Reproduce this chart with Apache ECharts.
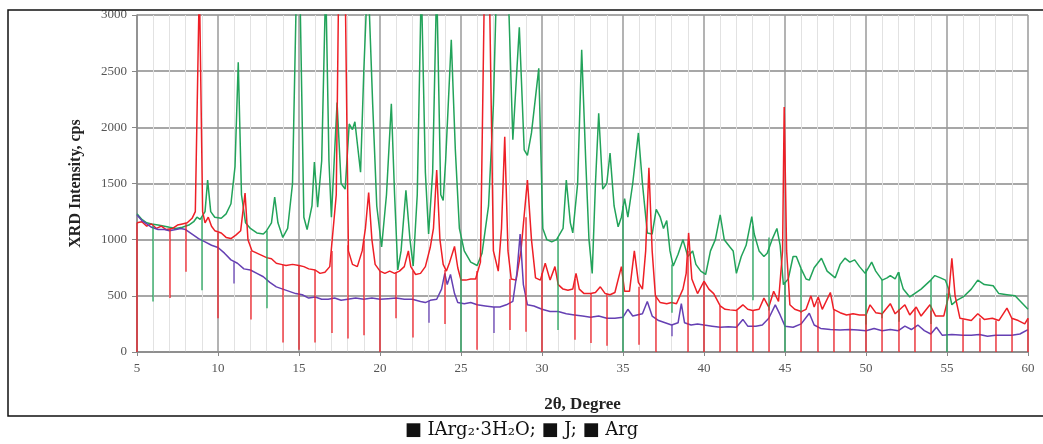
<!DOCTYPE html>
<html>
<head>
<meta charset="utf-8">
<script src="https://cdn.jsdelivr.net/npm/echarts@6/dist/echarts.min.js"></script>
<style>
  html, body { margin: 0; padding: 0; background: #fff; }
  #chart { width: 1043px; height: 444px; }
</style>
</head>
<body>
<div id="chart"></div>
<script>
// series names (caption order)
const seriesNames = ['IArg2·3H2O', 'J', 'Arg']

// green trace [2theta, cps]
const greenPts = [
  [5.0, 1230], [5.3, 1180], [5.6, 1150], [5.9, 1140], [6.3, 1130], [6.7, 1120], [7.0, 1110], [7.4, 1100],
  [7.8, 1110], [8.2, 1130], [8.5, 1160], [8.7, 1200], [8.9, 1180], [9.2, 1250], [9.36, 1530], [9.55, 1250],
  [9.8, 1200], [10.2, 1190], [10.5, 1230], [10.8, 1320], [11.05, 1650], [11.25, 2580], [11.45, 1400],
  [11.7, 1150], [12.0, 1100], [12.4, 1060], [12.8, 1050], [13.0, 1080], [13.3, 1150], [13.5, 1380],
  [13.7, 1150], [14.0, 1020], [14.3, 1100], [14.6, 1500], [14.85, 3300], [15.05, 3300], [15.3, 1200],
  [15.5, 1090], [15.8, 1300], [15.95, 1690], [16.15, 1290], [16.4, 1700], [16.65, 3300], [16.85, 1700],
  [17.0, 1200], [17.35, 2220], [17.6, 1500], [17.85, 1450], [18.1, 2030], [18.3, 1980], [18.45, 2050],
  [18.8, 1600], [19.0, 2500], [19.25, 3400], [19.55, 2200], [19.8, 1300], [20.1, 935], [20.4, 1400],
  [20.7, 2210], [20.9, 1400], [21.1, 730], [21.3, 900], [21.6, 1440], [21.85, 1000], [22.05, 765],
  [22.3, 1400], [22.55, 3300], [22.8, 1600], [23.0, 1050], [23.25, 1600], [23.5, 3300], [23.75, 1400],
  [23.9, 1350], [24.05, 1700], [24.4, 2780], [24.65, 1800], [24.9, 1100], [25.2, 900], [25.6, 800],
  [26.0, 770], [26.3, 880], [26.7, 1300], [27.0, 2200], [27.2, 3300], [27.55, 3400], [27.9, 3300],
  [28.2, 1890], [28.6, 2890], [28.9, 1800], [29.1, 1750], [29.35, 1950], [29.8, 2525], [30.05, 1100],
  [30.3, 1000], [30.6, 980], [30.9, 1000], [31.3, 1100], [31.5, 1530], [31.75, 1150], [31.9, 1060],
  [32.2, 1500], [32.45, 2690], [32.7, 1700], [32.9, 1000], [33.1, 700], [33.3, 1500], [33.5, 2125],
  [33.75, 1450], [34.0, 1500], [34.2, 1770], [34.45, 1300], [34.7, 1115], [34.9, 1200], [35.1, 1365],
  [35.3, 1200], [35.6, 1500], [35.95, 1950], [36.2, 1500], [36.5, 1060], [36.8, 1050], [37.05, 1270],
  [37.3, 1200], [37.5, 1100], [37.7, 1170], [37.9, 900], [38.1, 765], [38.4, 870], [38.7, 1000],
  [39.0, 850], [39.3, 900], [39.5, 780], [39.8, 720], [40.1, 690], [40.4, 900], [40.7, 1000],
  [41.0, 1220], [41.25, 1000], [41.6, 935], [41.8, 900], [42.0, 700], [42.3, 850], [42.6, 950],
  [42.95, 1205], [43.1, 1050], [43.4, 900], [43.7, 850], [43.9, 880], [44.2, 1000], [44.5, 1100],
  [44.7, 950], [44.9, 600], [45.2, 650], [45.5, 850], [45.7, 850], [46.0, 740], [46.3, 650], [46.5, 640],
  [46.8, 750], [47.25, 835], [47.6, 720], [48.1, 660], [48.4, 780], [48.7, 835], [49.0, 800], [49.3, 820],
  [49.6, 760], [49.95, 700], [50.35, 800], [50.6, 720], [51.0, 640], [51.3, 660], [51.5, 680], [51.8, 650],
  [52.0, 710], [52.3, 560], [52.7, 490], [53.0, 520], [53.4, 560], [53.7, 600], [54.0, 640], [54.25, 680],
  [54.6, 660], [54.9, 640], [55.1, 560], [55.3, 420], [55.6, 460], [56.0, 490], [56.5, 560], [56.9, 640],
  [57.3, 600], [57.85, 590], [58.2, 520], [58.7, 510], [59.2, 500], [59.6, 440], [60.0, 380]
]

// red trace
const redPts = [
  [5.0, 1150], [5.3, 1160], [5.6, 1120], [5.9, 1140], [6.2, 1100], [6.5, 1120], [6.8, 1090], [7.2, 1100],
  [7.5, 1130], [7.8, 1140], [8.1, 1150], [8.4, 1190], [8.6, 1250], [8.85, 3300], [9.05, 1250], [9.2, 1150],
  [9.4, 1200], [9.6, 1120], [9.8, 1080], [10.2, 1060], [10.5, 1020], [10.8, 1010], [11.1, 1040],
  [11.4, 1080], [11.67, 1415], [11.85, 1000], [12.1, 900], [12.4, 880], [12.7, 860], [13.0, 840],
  [13.3, 830], [13.6, 790], [13.9, 780], [14.2, 770], [14.6, 780], [15.0, 770], [15.3, 760], [15.6, 740],
  [16.0, 730], [16.3, 700], [16.6, 710], [16.9, 760], [17.3, 1400], [17.45, 3300], [17.85, 3300],
  [18.05, 900], [18.3, 780], [18.6, 760], [18.9, 900], [19.1, 1100], [19.3, 1420], [19.5, 1000],
  [19.7, 780], [20.0, 720], [20.3, 700], [20.6, 720], [20.9, 700], [21.2, 720], [21.5, 760], [21.75, 900],
  [21.9, 760], [22.2, 690], [22.5, 700], [22.8, 760], [23.1, 930], [23.3, 1100], [23.5, 1620], [23.7, 1000],
  [23.9, 780], [24.1, 720], [24.3, 800], [24.6, 940], [24.8, 750], [25.0, 640], [25.3, 640], [25.6, 650],
  [25.9, 650], [26.2, 800], [26.45, 3300], [26.75, 3300], [27.0, 900], [27.3, 720], [27.5, 1100],
  [27.7, 1915], [27.9, 900], [28.1, 650], [28.4, 640], [28.7, 900], [29.1, 1530], [29.35, 1000],
  [29.6, 660], [29.9, 640], [30.2, 790], [30.5, 640], [30.8, 760], [31.0, 600], [31.3, 560], [31.6, 550],
  [31.9, 560], [32.1, 700], [32.3, 560], [32.6, 520], [33.0, 520], [33.3, 530], [33.6, 580], [33.9, 520],
  [34.2, 510], [34.5, 530], [34.9, 760], [35.1, 540], [35.4, 540], [35.7, 900], [35.95, 620], [36.2, 560],
  [36.4, 900], [36.6, 1640], [36.8, 900], [37.0, 500], [37.3, 440], [37.7, 430], [38.0, 440], [38.3, 430],
  [38.7, 560], [38.9, 700], [39.05, 1060], [39.25, 650], [39.6, 520], [40.0, 630], [40.3, 560],
  [40.6, 520], [41.0, 410], [41.3, 380], [41.6, 375], [42.0, 370], [42.4, 420], [42.7, 380], [43.0, 370],
  [43.4, 380], [43.7, 480], [44.0, 400], [44.3, 540], [44.6, 450], [44.85, 900], [44.95, 2180],
  [45.1, 900], [45.3, 420], [45.6, 380], [46.0, 360], [46.3, 380], [46.6, 500], [46.8, 400], [47.05, 490],
  [47.3, 380], [47.8, 530], [48.0, 380], [48.4, 350], [48.8, 330], [49.2, 340], [49.6, 330], [50.0, 330],
  [50.25, 420], [50.6, 350], [51.0, 340], [51.5, 430], [51.8, 340], [52.4, 420], [52.7, 330], [53.1, 400],
  [53.4, 320], [53.95, 420], [54.3, 320], [54.8, 320], [55.1, 500], [55.3, 835], [55.5, 500], [55.8, 300],
  [56.2, 290], [56.5, 280], [56.9, 340], [57.3, 290], [57.8, 300], [58.2, 280], [58.7, 390], [59.0, 300],
  [59.4, 280], [59.8, 250], [60.0, 300]
]

// purple trace
const purplePts = [
  [5.0, 1220], [5.3, 1170], [5.6, 1140], [5.9, 1110], [6.3, 1090], [6.7, 1090], [7.0, 1080], [7.4, 1090],
  [7.7, 1100], [8.0, 1090], [8.4, 1050], [8.8, 1010], [9.2, 980], [9.6, 950], [10.0, 930], [10.4, 880],
  [10.8, 820], [11.2, 790], [11.6, 740], [12.0, 730], [12.4, 700], [12.8, 670], [13.2, 620], [13.6, 580],
  [14.0, 560], [14.4, 540], [14.8, 520], [15.2, 510], [15.6, 480], [16.0, 490], [16.4, 470], [16.8, 470],
  [17.2, 480], [17.6, 460], [18.0, 470], [18.5, 480], [19.0, 470], [19.5, 480], [20.0, 470], [20.5, 475],
  [21.0, 480], [21.5, 470], [22.0, 470], [22.5, 450], [22.8, 440], [23.1, 460], [23.5, 470], [23.8, 560],
  [24.0, 700], [24.15, 600], [24.35, 690], [24.6, 520], [24.8, 440], [25.2, 430], [25.6, 440], [26.0, 420],
  [26.5, 410], [27.0, 400], [27.4, 400], [27.8, 420], [28.2, 450], [28.45, 700], [28.65, 1050],
  [28.85, 600], [29.1, 420], [29.5, 410], [30.0, 380], [30.5, 360], [31.0, 360], [31.5, 340], [32.0, 330],
  [32.5, 320], [33.0, 310], [33.5, 320], [34.0, 300], [34.5, 300], [35.0, 310], [35.3, 380], [35.6, 320],
  [36.2, 340], [36.5, 450], [36.8, 320], [37.2, 280], [37.6, 260], [38.0, 240], [38.4, 260], [38.6, 430],
  [38.8, 260], [39.2, 240], [39.6, 250], [40.0, 240], [40.5, 230], [41.0, 220], [41.5, 225], [42.0, 220],
  [42.4, 290], [42.7, 230], [43.2, 230], [43.6, 240], [44.0, 300], [44.4, 420], [44.7, 330], [45.0, 230],
  [45.5, 220], [46.0, 250], [46.5, 345], [46.8, 240], [47.2, 210], [47.8, 200], [48.4, 195], [49.0, 200],
  [49.5, 195], [50.0, 190], [50.5, 210], [51.0, 190], [51.5, 200], [52.0, 190], [52.4, 230], [52.8, 200],
  [53.2, 240], [53.6, 190], [54.0, 160], [54.35, 220], [54.7, 150], [55.3, 155], [56.0, 150], [56.5, 150],
  [57.0, 155], [57.5, 140], [58.0, 150], [58.5, 150], [59.0, 150], [59.5, 160], [60.0, 200]
]

// spikes down at whole degrees: [2theta, from, to]
const greenDrops = [
  [6, 1125, 450], [9, 1200, 550], [13, 1080, 390], [25, 1000, 0], [31, 1020, 195], [35, 1300, 0],
  [38, 780, 350], [43, 1120, 460], [44, 1020, 370], [45, 620, 0], [46, 740, 350], [50, 740, 245],
  [51, 640, 300], [52, 710, 270], [54, 640, 250], [55, 520, 0]
]
const redDrops = [
  [5, 1150, 0], [7, 1095, 480], [8, 1145, 715], [10, 1060, 300], [12, 900, 290], [14, 775, 85],
  [15, 770, 20], [16, 730, 85], [17, 900, 170], [18, 950, 120], [19, 1000, 150], [20, 720, 0],
  [21, 710, 300], [22, 720, 130], [24, 730, 250], [26, 720, 20], [28, 650, 195], [29, 1200, 180],
  [30, 700, 0], [32, 650, 110], [33, 520, 80], [34, 515, 55], [36, 580, 65], [37, 500, 0], [39, 900, 0],
  [40, 630, 0], [41, 410, 0], [42, 370, 0], [43, 370, 0], [44, 400, 0], [46, 360, 0], [47, 450, 0],
  [48, 380, 0], [49, 335, 0], [50, 330, 0], [51, 340, 0], [52, 380, 0], [53, 390, 0], [54, 370, 0],
  [56, 290, 0], [57, 300, 0], [58, 280, 0], [59, 300, 0], [60, 300, 0]
]
const purpleDrops = [
  [11, 800, 610], [23, 455, 260], [27, 400, 170], [38, 240, 140]
]

const colors = ['#22a35a', '#ee1f26', '#6540b3']

function dropLines (drops) {
  return drops.map(d => [{ coord: [d[0], d[1]] }, { coord: [d[0], d[2]] }])
}

function makeSeries (name, pts, drops, color, z) {
  return {
    name,
    type: 'line',
    data: pts,
    z,
    symbol: 'none',
    clip: true,
    lineStyle: { color, width: 1.5 },
    markLine: {
      silent: true,
      symbol: 'none',
      animation: false,
      label: { show: false },
      lineStyle: { color, width: 1.5, type: 'solid', opacity: 0.85 },
      data: dropLines(drops)
    }
  }
}

const chart = echarts.init(document.getElementById('chart'), null, { renderer: 'canvas' })
const option = {
  animation: false,
  backgroundColor: '#fff',
  grid: { left: 137, right: 15, top: 15, bottom: 92 },
  xAxis: {
    type: 'value',
    min: 5,
    max: 60,
    interval: 5,
    name: '2θ, Degree',
    nameLocation: 'middle',
    nameGap: 44,
    nameTextStyle: { fontFamily: 'Liberation Serif', fontWeight: 'bold', fontSize: 17, color: '#222' },
    axisLine: { onZero: false, lineStyle: { color: '#888', width: 1.5 } },
    axisTick: { show: true, length: 4, lineStyle: { color: '#888' } },
    axisLabel: { fontFamily: 'Liberation Serif', fontSize: 13, color: '#555', margin: 10 },
    splitLine: { show: true, lineStyle: { color: '#9a9a9a', width: 1.5 } },
    minorTick: { show: false, splitNumber: 5 },
    minorSplitLine: { show: true, lineStyle: { color: '#e2e2e2', width: 1 } }
  },
  yAxis: {
    type: 'value',
    min: 0,
    max: 3000,
    interval: 500,
    name: 'XRD Intensity, cps',
    nameLocation: 'middle',
    nameGap: 53,
    nameTextStyle: { fontFamily: 'Liberation Serif', fontWeight: 'bold', fontSize: 16, color: '#222' },
    axisLine: { show: true, lineStyle: { color: '#888', width: 1.5 } },
    axisTick: { show: true, length: 5, lineStyle: { color: '#888' } },
    axisLabel: {
      fontFamily: 'Liberation Serif',
      fontSize: 13,
      color: '#555',
      margin: 10,
      formatter: v => String(v)
    },
    splitLine: { show: true, lineStyle: { color: '#8a8a8a', width: 1.5 } }
  },
  series: [
    makeSeries(seriesNames[0], greenPts, greenDrops, colors[0], 2),
    makeSeries(seriesNames[1], redPts, redDrops, colors[1], 3),
    makeSeries(seriesNames[2], purplePts, purpleDrops, colors[2], 4)
  ],
  graphic: [
    {
      type: 'rect',
      shape: { x: 8, y: 10, width: 1045, height: 406 },
      style: { fill: null, stroke: '#111', lineWidth: 1.5 },
      silent: true,
      z: 10
    },
    {
      type: 'text',
      left: 'center',
      top: 421,
      style: {
        text: '■ IArg₂·3H₂O; ■ J; ■ Arg',
        font: '18px "DejaVu Serif"',
        fill: '#111'
      }
    }
  ]
}
chart.setOption(option)
</script>
</body>
</html>
